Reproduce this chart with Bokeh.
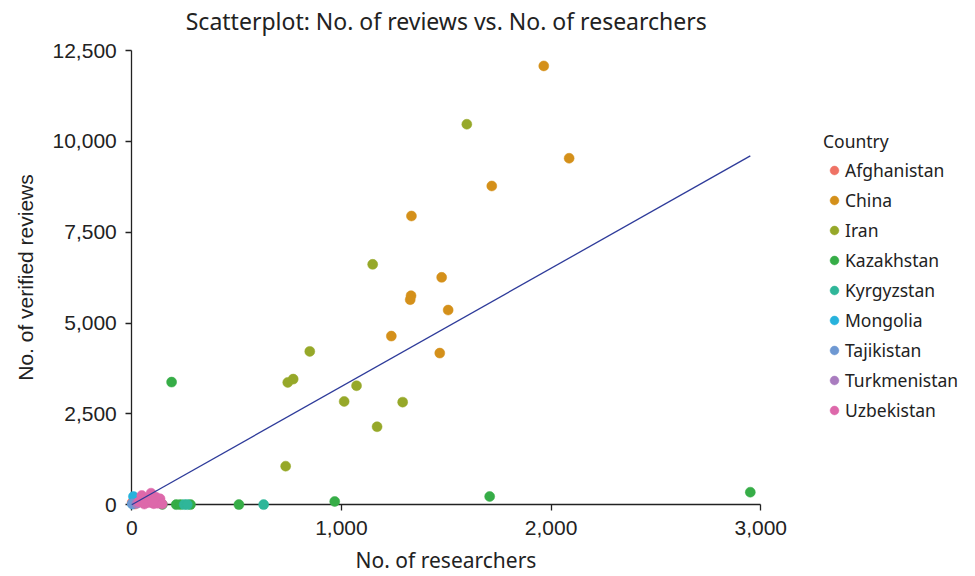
from bokeh.plotting import figure
from bokeh.models import Range1d, FixedTicker, NumeralTickFormatter, Legend, LegendItem, Label
from bokeh.embed import file_html
from bokeh.resources import INLINE

countries = ["Afghanistan", "China", "Iran", "Kazakhstan", "Kyrgyzstan",
             "Mongolia", "Tajikistan", "Turkmenistan", "Uzbekistan"]
colors = ["#ef7265", "#d4901a", "#96a829", "#36ad47", "#2fb699",
          "#27b2dc", "#6e98d2", "#a97cbf", "#dd68aa"]

afghanistan_x = [2, 15]
afghanistan_y = [60, 20]
china_x = [1965, 2086, 1717, 1334, 1478, 1332, 1328, 1509, 1238, 1469]
china_y = [12076, 9535, 8772, 7946, 6258, 5754, 5644, 5358, 4642, 4174]
iran_x = [1598, 1149, 849, 770, 744, 1072, 1013, 1292, 1170, 734]
iran_y = [10471, 6616, 4221, 3458, 3367, 3276, 2844, 2825, 2148, 1063]
kazakhstan_x = [190, 968, 1707, 2950, 146, 212, 232, 280, 511]
kazakhstan_y = [3376, 91, 228, 347, 10, 5, 5, 5, 5]
kyrgyzstan_x = [250, 265, 629]
kyrgyzstan_y = [5, 5, 5]
mongolia_x = [8, 3]
mongolia_y = [228, 20]
tajikistan_x = [3]
tajikistan_y = [30]
turkmenistan_x = [25, 45]
turkmenistan_y = [40, 90]
uzbekistan_x = [35, 48, 65, 80, 92, 105, 115, 125, 135, 145, 60, 100]
uzbekistan_y = [80, 256, 150, 60, 320, 30, 210, 40, 165, 20, 20, 100]

trend_x = [0, 2950]
trend_y = [0, 9600]

x_ticks = [0, 1000, 2000, 3000]
y_ticks = [0, 2500, 5000, 7500, 10000, 12500]

series = [
    (afghanistan_x, afghanistan_y), (china_x, china_y), (iran_x, iran_y),
    (kazakhstan_x, kazakhstan_y), (kyrgyzstan_x, kyrgyzstan_y),
    (mongolia_x, mongolia_y), (tajikistan_x, tajikistan_y),
    (turkmenistan_x, turkmenistan_y), (uzbekistan_x, uzbekistan_y),
]

p = figure(width=975, height=576, output_backend="svg", toolbar_location=None,
           x_range=Range1d(-626, 4024), y_range=Range1d(-1973, 13876),
           min_border_left=0, min_border_right=0,
           min_border_top=0, min_border_bottom=0, title=None)

p.xgrid.visible = False
p.ygrid.visible = False
p.outline_line_color = None
p.background_fill_color = "white"

for ax in (p.xaxis[0], p.yaxis[0]):
    ax.fixed_location = 0
    ax.level = "underlay"
    ax.axis_line_color = "#222222"
    ax.axis_line_width = 1.3
    ax.major_tick_line_color = "#222222"
    ax.major_tick_line_width = 1.3
    ax.major_tick_in = 0
    ax.major_tick_out = 6
    ax.minor_tick_line_color = None
    ax.major_label_text_font = "Liberation Sans"
    ax.major_label_text_font_size = "21px"
    ax.major_label_text_color = "#222222"
    ax.formatter = NumeralTickFormatter(format="0,0")
    ax.axis_label_text_font_style = "normal"
    ax.axis_label_text_color = "#222222"

p.xaxis[0].bounds = (0, 3000)
p.yaxis[0].bounds = (0, 12500)
p.xaxis[0].ticker = FixedTicker(ticks=x_ticks)
p.yaxis[0].ticker = FixedTicker(ticks=y_ticks)
p.xaxis[0].axis_label = "No. of researchers"
p.xaxis[0].axis_label_text_font = "Noto Sans"
p.xaxis[0].axis_label_text_font_size = "21px"
p.xaxis[0].major_label_standoff = 10
p.xaxis[0].axis_label_standoff = 8
p.yaxis[0].axis_label = "No. of verified reviews"
p.yaxis[0].axis_label_text_font = "Liberation Sans"
p.yaxis[0].axis_label_text_font_size = "21px"
p.yaxis[0].major_label_standoff = 9
p.yaxis[0].axis_label_standoff = 12

title = Label(x=1500, y=13325, text="Scatterplot: No. of reviews vs. No. of researchers",
              text_align="center", text_baseline="middle",
              text_font="Noto Sans", text_font_size="23px", text_color="#222222")
p.add_layout(title)

items = []
for name, color, (xs, ys) in zip(countries, colors, series):
    r = p.scatter(xs, ys, size=10, fill_color=color, line_color=color,
                  line_width=0.5)
    items.append(LegendItem(label=name, renderers=[r]))

p.line(trend_x, trend_y, line_color="#2e3b9a", line_width=1.3)

legend = Legend(items=items, title="Country", location=(823, 152),
                margin=0, padding=10, spacing=2,
                glyph_width=22, glyph_height=28, label_height=28,
                label_standoff=0, title_standoff=3,
                label_text_font="Noto Sans", label_text_font_size="17.5px",
                label_text_color="#222222",
                title_text_font="Noto Sans", title_text_font_size="17.5px",
                title_text_font_style="normal", title_text_color="#222222",
                background_fill_alpha=0, border_line_color=None)
p.add_layout(legend)

open("out.html", "w").write(file_html(p, INLINE))
